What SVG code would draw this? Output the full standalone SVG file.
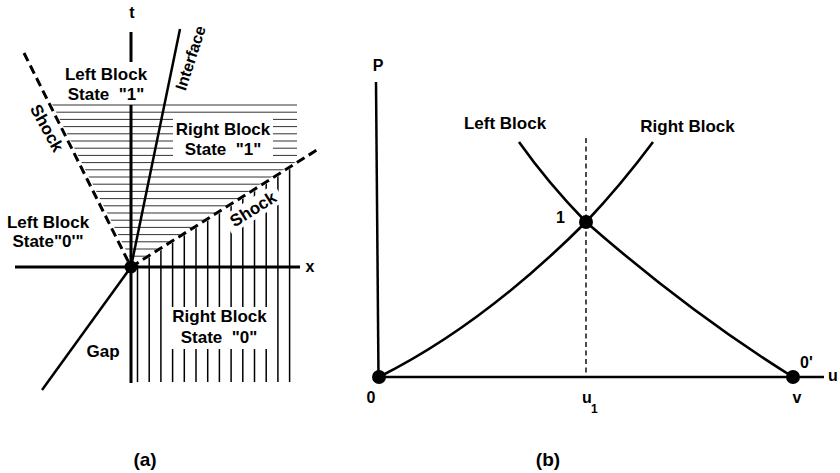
<svg xmlns="http://www.w3.org/2000/svg" width="840" height="473" viewBox="0 0 840 473">
<style>
text{font-family:"Liberation Sans",Arial,sans-serif;font-weight:bold;fill:#000}
.lb{font-size:17px;text-anchor:middle}
.sm{font-size:16px;text-anchor:middle}
.ax{stroke:#000;stroke-width:3;fill:none}
.ln{stroke:#000;stroke-width:2.5;fill:none}
.sh{stroke:#000;stroke-width:3;fill:none;stroke-dasharray:9 5}
.hh{stroke:#333;stroke-width:1}
.vh{stroke:#000;stroke-width:1.5}
.cv{stroke:#000;stroke-width:2.6;fill:none}
.dot{fill:#000}
</style>
<defs>
<clipPath id="hclip"><polygon points="52,104 297,104 297,161.2 133,264"/></clipPath>
<clipPath id="vclip"><polygon points="131,269 300,162.7 300,383 131,383"/></clipPath>
</defs>
<rect width="840" height="473" fill="#fff"/>

<!-- Panel (a) -->
<g id="panel-a">
<g id="hatch-horizontal" clip-path="url(#hclip)">
<line class="hh" x1="40" x2="300" y1="105" y2="105"/>
<line class="hh" x1="40" x2="300" y1="112.2" y2="112.2"/>
<line class="hh" x1="40" x2="300" y1="119.4" y2="119.4"/>
<line class="hh" x1="40" x2="300" y1="126.6" y2="126.6"/>
<line class="hh" x1="40" x2="300" y1="133.8" y2="133.8"/>
<line class="hh" x1="40" x2="300" y1="141" y2="141"/>
<line class="hh" x1="40" x2="300" y1="148.2" y2="148.2"/>
<line class="hh" x1="40" x2="300" y1="155.4" y2="155.4"/>
<line class="hh" x1="40" x2="300" y1="162.6" y2="162.6"/>
<line class="hh" x1="40" x2="300" y1="169.8" y2="169.8"/>
<line class="hh" x1="40" x2="300" y1="177" y2="177"/>
<line class="hh" x1="40" x2="300" y1="184.2" y2="184.2"/>
<line class="hh" x1="40" x2="300" y1="191.4" y2="191.4"/>
<line class="hh" x1="40" x2="300" y1="198.6" y2="198.6"/>
<line class="hh" x1="40" x2="300" y1="205.8" y2="205.8"/>
<line class="hh" x1="40" x2="300" y1="213" y2="213"/>
<line class="hh" x1="40" x2="300" y1="220.2" y2="220.2"/>
<line class="hh" x1="40" x2="300" y1="227.4" y2="227.4"/>
<line class="hh" x1="40" x2="300" y1="234.6" y2="234.6"/>
<line class="hh" x1="40" x2="300" y1="241.8" y2="241.8"/>
<line class="hh" x1="40" x2="300" y1="249" y2="249"/>
<line class="hh" x1="40" x2="300" y1="256.2" y2="256.2"/>
</g>
<g id="hatch-vertical" clip-path="url(#vclip)">
<line class="vh" x1="137.5" x2="137.5" y1="150" y2="382"/>
<line class="vh" x1="149.2" x2="149.2" y1="150" y2="382"/>
<line class="vh" x1="160.9" x2="160.9" y1="150" y2="382"/>
<line class="vh" x1="172.6" x2="172.6" y1="150" y2="382"/>
<line class="vh" x1="184.3" x2="184.3" y1="150" y2="382"/>
<line class="vh" x1="196" x2="196" y1="150" y2="382"/>
<line class="vh" x1="207.7" x2="207.7" y1="150" y2="382"/>
<line class="vh" x1="219.4" x2="219.4" y1="150" y2="382"/>
<line class="vh" x1="231.1" x2="231.1" y1="150" y2="382"/>
<line class="vh" x1="242.8" x2="242.8" y1="150" y2="382"/>
<line class="vh" x1="254.5" x2="254.5" y1="150" y2="382"/>
<line class="vh" x1="266.2" x2="266.2" y1="150" y2="382"/>
<line class="vh" x1="277.9" x2="277.9" y1="150" y2="382"/>
<line class="vh" x1="289.6" x2="289.6" y1="150" y2="382"/>
</g>
<g id="label-masks" fill="#fff">
<rect x="173" y="117" width="100" height="43"/>
<rect x="169" y="307" width="100" height="42"/>
<rect x="222" y="199" width="62" height="20" transform="rotate(-32 253 209)"/>
</g>
<g id="connectors-a">
<line class="ax" x1="131" y1="32" x2="131" y2="62"/>
<line class="ax" x1="131" y1="105" x2="131" y2="383"/>
<line class="ax" x1="15" y1="267" x2="300" y2="267"/>
<line class="ln" x1="180" y1="29" x2="131" y2="267"/>
<line class="ln" x1="131" y1="267" x2="42" y2="390"/>
<line class="sh" x1="24" y1="53" x2="131" y2="267"/>
<line class="sh" x1="131" y1="267" x2="320" y2="148"/>
</g>
<g id="origin-a"><circle class="dot" cx="131" cy="267" r="6.5"/></g>
<g id="labels-a">
<text class="sm" x="132" y="18">t</text>
<text class="sm" x="310" y="272">x</text>
<text class="lb" x="106" y="80">Left Block</text>
<text class="lb" x="106" y="100">State&#160; "1"</text>
<text class="lb" x="223" y="135">Right Block</text>
<text class="lb" x="223" y="155">State&#160; "1"</text>
<text class="lb" x="48" y="228">Left Block</text>
<text class="lb" x="48" y="247">State"0'"</text>
<text class="lb" x="219.5" y="322">Right Block</text>
<text class="lb" x="219" y="343">State&#160; "0"</text>
<text class="lb" x="103" y="357">Gap</text>
<text class="lb" transform="translate(47 128) rotate(61)" x="0" y="6">Shock</text>
<text class="lb" transform="translate(253 209) rotate(-32)" x="0" y="6">Shock</text>
<text class="lb" style="font-size:16px" transform="translate(190 58) rotate(-72)" x="0" y="6">Interface</text>
<text style="font-size:19px;text-anchor:middle" x="145" y="466">(a)</text>
</g>
</g>

<!-- Panel (b) -->
<g id="panel-b">
<g id="connectors-b">
<line class="ln" x1="376" y1="82" x2="378.5" y2="377"/>
<line class="ln" x1="379" y1="377" x2="824" y2="377"/>
<line x1="586" y1="138" x2="586" y2="377" stroke="#000" stroke-width="1.4" stroke-dasharray="5 3.5"/>
<path id="curve-right-block" class="cv" d="M379,377 Q483,325 586,222 Q621,185 653,142"/>
<path id="curve-left-block" class="cv" d="M519,142 Q548,183 586,222 Q690,313 793,377"/>
</g>
<g id="point-0"><circle class="dot" cx="379" cy="377" r="7"/><text class="sm" x="371" y="403">0</text></g>
<g id="point-1"><circle class="dot" cx="586" cy="222" r="7"/><text class="sm" x="560.5" y="223">1</text></g>
<g id="point-0p"><circle class="dot" cx="793" cy="377" r="7"/><text style="font-size:16px" x="800" y="368">0'</text></g>
<g id="labels-b">
<text class="sm" x="378" y="71">P</text>
<text class="lb" x="505" y="129">Left Block</text>
<text class="lb" x="687.5" y="132">Right Block</text>
<text style="font-size:16px" x="582" y="403">u</text>
<text style="font-size:12px" x="591" y="413">1</text>
<text class="sm" x="797" y="403">v</text>
<text style="font-size:16px" x="828" y="381">u</text>
<text style="font-size:19px;text-anchor:middle" x="548" y="466">(b)</text>
</g>
</g>
</svg>
